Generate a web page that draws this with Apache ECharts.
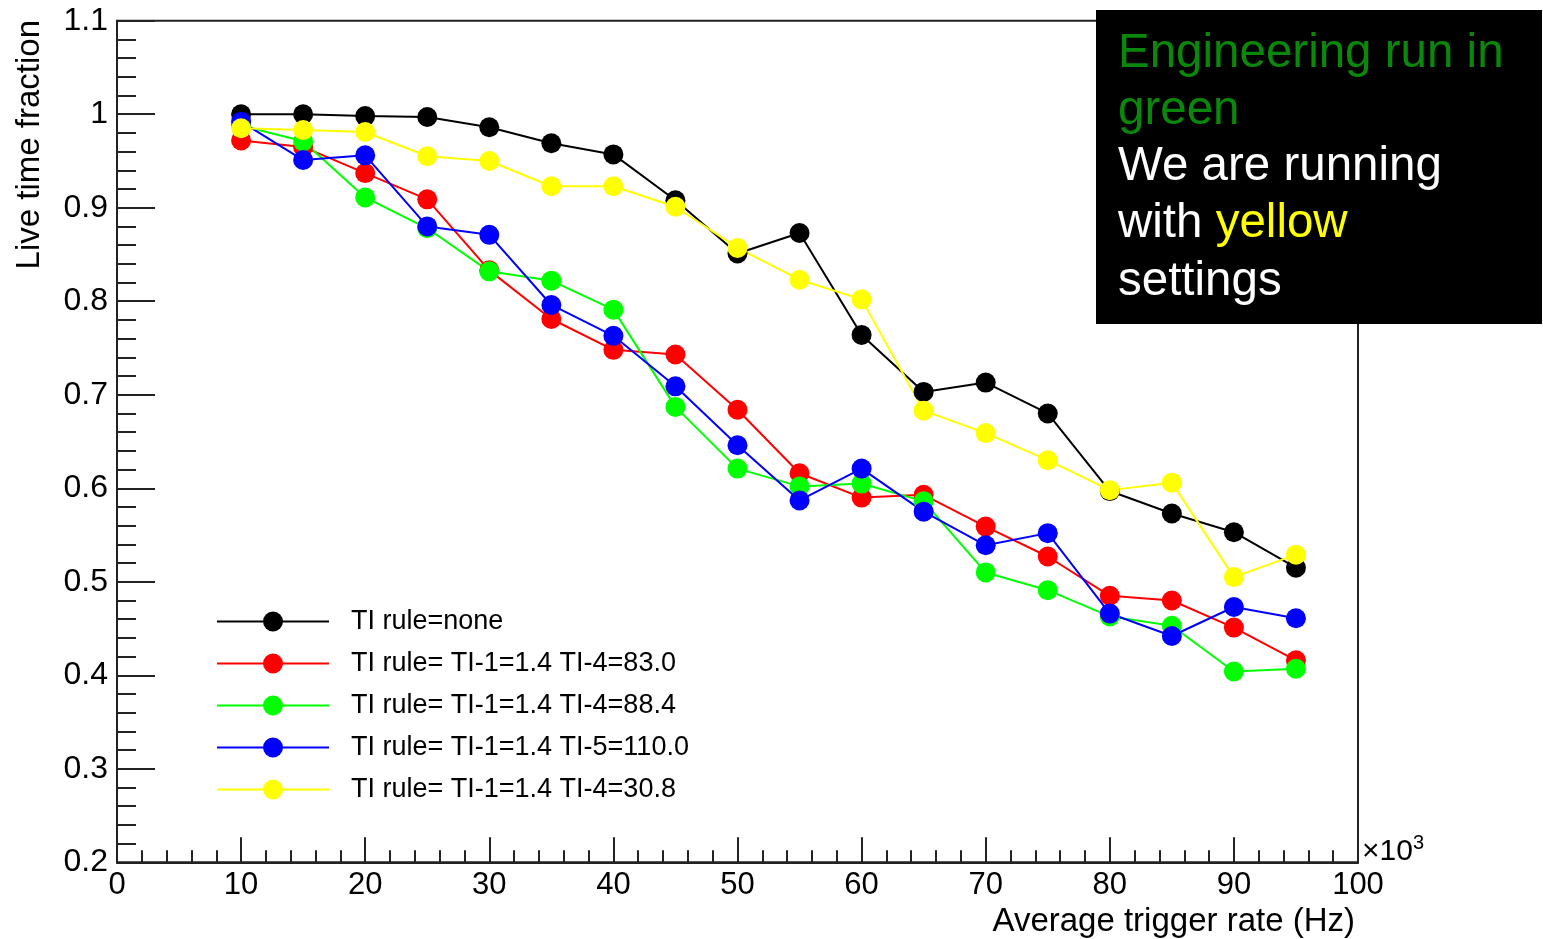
<!DOCTYPE html>
<html>
<head>
<meta charset="utf-8">
<script src="https://cdn.jsdelivr.net/npm/echarts@6/dist/echarts.min.js"></script>
<style>
html,body{margin:0;padding:0;background:#fff;}
#c{width:1543px;height:939px;}
</style>
</head>
<body>
<div id="c"></div>
<script>
// x values in units of 10^3 Hz
const rates = [10,15,20,25,30,35,40,45,50,55,60,65,70,75,80,85,90,95];
const seriesNames = [
  'TI rule=none',
  'TI rule= TI-1=1.4 TI-4=83.0',
  'TI rule= TI-1=1.4 TI-4=88.4',
  'TI rule= TI-1=1.4 TI-5=110.0',
  'TI rule= TI-1=1.4 TI-4=30.8'
];
const seriesColors = ['#000000','#ff0000','#00ff00','#0000ff','#ffff00'];
const liveNone   = [1.000,1.000,0.998,0.997,0.986,0.969,0.957,0.908,0.851,0.873,0.764,0.703,0.713,0.680,0.597,0.573,0.553,0.515];
const liveTI4_83 = [0.972,0.965,0.937,0.909,0.833,0.781,0.748,0.743,0.684,0.616,0.590,0.593,0.559,0.527,0.485,0.480,0.451,0.416];
const liveTI4_88 = [0.988,0.971,0.911,0.878,0.832,0.822,0.791,0.687,0.621,0.602,0.605,0.586,0.510,0.491,0.463,0.453,0.404,0.407];
const liveTI5_110= [0.992,0.951,0.956,0.880,0.871,0.796,0.763,0.709,0.646,0.587,0.621,0.575,0.539,0.552,0.466,0.442,0.473,0.461];
const liveTI4_31 = [0.985,0.983,0.981,0.955,0.950,0.923,0.923,0.901,0.857,0.823,0.802,0.683,0.659,0.630,0.598,0.606,0.505,0.529];
const seriesValues = [liveNone, liveTI4_83, liveTI4_88, liveTI5_110, liveTI4_31];

const FONT = '"Liberation Sans", Arial, Helvetica, sans-serif';
const chart = echarts.init(document.getElementById('c'), null, {renderer:'canvas'});

const series = seriesNames.map((name, i) => ({
  name: name,
  type: 'line',
  data: rates.map((x, j) => [x, seriesValues[i][j]]),
  symbol: 'circle',
  symbolSize: 20,
  showSymbol: true,
  lineStyle: {color: seriesColors[i], width: 2},
  itemStyle: {color: seriesColors[i]},
  emphasis: {disabled: true}
}));

chart.setOption({
  animation: false,
  backgroundColor: '#ffffff',
  grid: {left: 117, right: 185, top: 20.7, bottom: 76.7, show: true,
         borderColor: '#222', borderWidth: 2, backgroundColor: 'transparent'},
  xAxis: {
    type: 'value', min: 0, max: 100, interval: 10,
    axisLine: {show: true, lineStyle: {color: '#222', width: 2}},
    axisTick: {show: true, inside: true, length: 25, lineStyle: {color: '#222', width: 2}},
    minorTick: {show: true, splitNumber: 5, length: 12, lineStyle: {color: '#222', width: 2}},
    splitLine: {show: false},
    axisLabel: {fontFamily: FONT, fontSize: 31, color: '#000', margin: 8,
                showMinLabel: true, showMaxLabel: true}
  },
  yAxis: {
    type: 'value', min: 0.2, max: 1.1, interval: 0.1,
    axisLine: {show: true, lineStyle: {color: '#222', width: 2}},
    axisTick: {show: true, inside: true, length: 38, lineStyle: {color: '#222', width: 2}},
    minorTick: {show: true, splitNumber: 5, length: 19, lineStyle: {color: '#222', width: 2}},
    splitLine: {show: false},
    axisLabel: {fontFamily: FONT, fontSize: 32, color: '#000', margin: 9,
                showMinLabel: true, showMaxLabel: true,
                formatter: v => String(+(+v).toFixed(2))}
  },
  legend: {
    orient: 'vertical', left: 216, top: 608, padding: 0,
    itemWidth: 112, itemHeight: 25, itemGap: 15,
    data: seriesNames,
    textStyle: {fontFamily: FONT, fontSize: 27, color: '#000', padding: [0,0,0,17]},
    selectedMode: false
  },
  series: series,
  graphic: [
    {type: 'text', x: 1355, y: 922, z: 10,
     style: {text: 'Average trigger rate (Hz)', font: '33px ' + FONT, fill: '#000',
             align: 'right', verticalAlign: 'middle'}},
    {type: 'text', x: 30, y: 20, rotation: Math.PI / 2, z: 10,
     style: {text: 'Live time fraction', font: '33px ' + FONT, fill: '#000',
             align: 'right', verticalAlign: 'middle'}},
    {type: 'text', x: 1362, y: 852, z: 10,
     style: {text: '×10{s|3}', font: '30px ' + FONT, fill: '#000',
             align: 'left', verticalAlign: 'middle',
             rich: {s: {fontSize: 20, fontFamily: FONT, fill: '#000', verticalAlign: 'top', padding: [0,0,18,0]}}}},
    {type: 'rect', z: 20, shape: {x: 1096, y: 10, width: 446, height: 314},
     style: {fill: '#000000'}},
    {type: 'text', z: 21, x: 1118, y: 54,
     style: {text: 'Engineering run in', font: '47.5px ' + FONT, fill: '#0b870b', align: 'left', verticalAlign: 'middle'}},
    {type: 'text', z: 21, x: 1118, y: 111,
     style: {text: 'green', font: '47.5px ' + FONT, fill: '#0b870b', align: 'left', verticalAlign: 'middle'}},
    {type: 'text', z: 21, x: 1118, y: 167,
     style: {text: 'We are running', font: '47.5px ' + FONT, fill: '#ffffff', align: 'left', verticalAlign: 'middle'}},
    {type: 'text', z: 21, x: 1118, y: 224,
     style: {text: '{w|with }{y|yellow}', font: '47.5px ' + FONT, fill: '#ffffff', align: 'left', verticalAlign: 'middle',
             rich: {w: {fontSize: 47.5, fontFamily: FONT, fill: '#ffffff'},
                    y: {fontSize: 47.5, fontFamily: FONT, fill: '#ffff00'}}}},
    {type: 'text', z: 21, x: 1118, y: 282,
     style: {text: 'settings', font: '47.5px ' + FONT, fill: '#ffffff', align: 'left', verticalAlign: 'middle'}}
  ]
});
</script>
</body>
</html>
